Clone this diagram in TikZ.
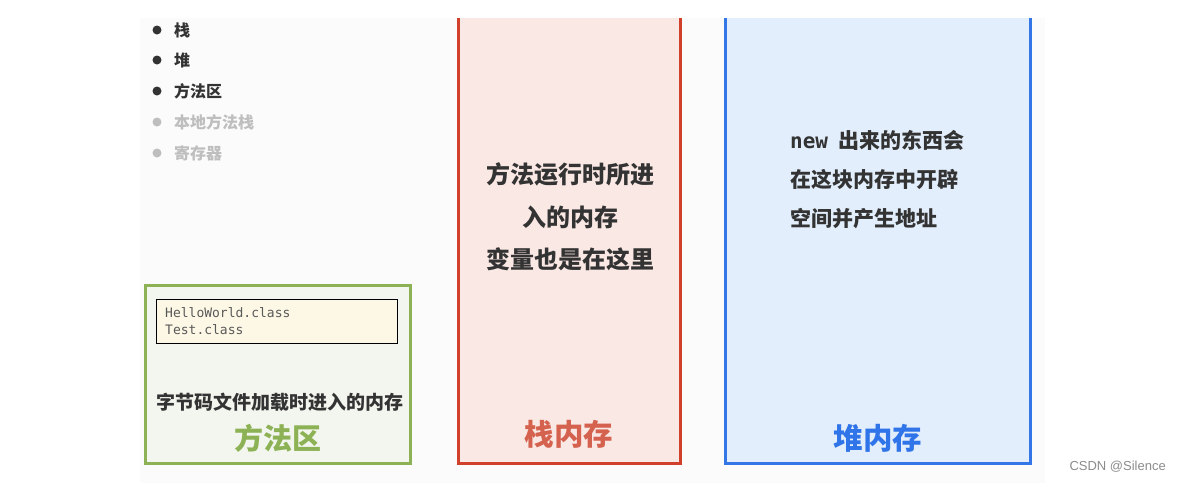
\documentclass[tikz,border=0pt]{standalone}
\usepackage{fontspec}
\usepackage{xcolor}
\usepackage{tikz}
\usetikzlibrary{positioning}
\newfontfamily\cjk{Noto Sans CJK SC}
\newfontfamily\codefont{DejaVu Sans Mono}
\newfontfamily\markfont{Liberation Sans}
\definecolor{methodgreen}{RGB}{141,178,85}
\definecolor{methodfill}{RGB}{242,246,238}
\definecolor{stackred}{RGB}{208,64,43}
\definecolor{stackfill}{RGB}{250,232,228}
\definecolor{stacklabel}{RGB}{212,98,78}
\definecolor{heapblue}{RGB}{51,119,230}
\definecolor{heapfill}{RGB}{226,238,252}
\definecolor{heaplabel}{RGB}{47,116,232}
\definecolor{classcream}{RGB}{253,248,230}
\definecolor{textdark}{RGB}{51,51,51}
\definecolor{textlight}{RGB}{190,190,190}

\begin{document}
\begin{tikzpicture}[
    x=1pt, y=-1pt,
    every node/.style={font=\cjk, inner sep=0pt},
    region/.style={line width=3pt},
    item/.style={anchor=west, font=\cjk\bfseries\fontsize{16}{18}\selectfont},
    note/.style={text=textdark, font=\cjk\bfseries\fontsize{21}{39}\selectfont},
    title/.style={font=\cjk\bfseries\fontsize{29.5}{32}\selectfont}
]
    \useasboundingbox (0,0) rectangle (1184,483);
    \fill[white] (0,0) rectangle (1184,483);

    % faint panel
    \fill[black!1.5] (140,18) rectangle (1045,483);

    % Bullet list
    \foreach \y/\txt/\col in {30/栈/textdark, 60/堆/textdark, 91/方法区/textdark,
                              122/本地方法栈/textlight, 153/寄存器/textlight} {
        \fill[\col] (157,\y) circle (4.5pt);
        \node[item, text=\col] (item-\y) at (174,\y) {\txt};
    }

    % Method area
    \draw[region, methodgreen, fill=methodfill] (145,285) rectangle (410,463);
    \node[draw=black, line width=1.4pt, fill=classcream, minimum width=241pt,
          minimum height=44pt, anchor=north west] (classes) at (156,299) {};
    \node[anchor=west, align=left, text=black!65,
          font=\codefont\fontsize{13}{17}\selectfont] (classlist) at (165,321)
        {HelloWorld.class\\Test.class};
    \node[note, font=\cjk\bfseries\fontsize{19}{22}\selectfont] (methodnote) at (280,402)
        {字节码文件加载时进入的内存};
    \node[title, text=methodgreen, font=\cjk\bfseries\fontsize{29}{32}\selectfont]
        (methodtitle) at (278,438) {方法区};

    % Stack memory
    \fill[stackfill] (458,18) rectangle (680,463);
    \draw[region, stackred] (458,18) -- (458,463) -- (680,463) -- (680,18);
    \node[note, align=center, font=\cjk\bfseries\fontsize{24}{42.5}\selectfont]
        (stacknote) at (570,217) {方法运行时所进\\入的内存\\变量也是在这里};
    \node[title, text=stacklabel] (stacktitle) at (569,434) {栈内存};

    % Heap memory
    \fill[heapfill] (725,18) rectangle (1030,463);
    \draw[region, heapblue] (725,18) -- (725,463) -- (1030,463) -- (1030,18);
    \node[note, align=left, anchor=west] (heapnote) at (790,180)
        {{\codefont\bfseries new}\hspace{10pt}出来的东西会\\在这块内存中开辟\\空间并产生地址};
    \node[title, text=heaplabel] (heaptitle) at (878,438) {堆内存};

    % watermark
    \node[anchor=east, text=black!45, font=\markfont\fontsize{13}{15}\selectfont]
        (mark) at (1166,467) {CSDN @Silence};
\end{tikzpicture}
\end{document}
